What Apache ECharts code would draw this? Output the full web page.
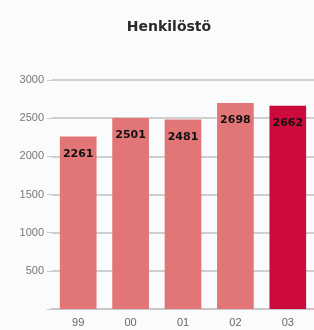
<!DOCTYPE html>
<html>
<head>
<meta charset="utf-8">
<script src="https://cdn.jsdelivr.net/npm/echarts@6/dist/echarts.min.js"></script>
<style>
  html, body { margin: 0; padding: 0; background: #fafbfd; }
  #chart { width: 314px; height: 330px; }
</style>
</head>
<body>
<div id="chart"></div>
<script>
  // vuodet ja henkilöstömäärät
  var years = ['99', '00', '01', '02', '03'];
  var staff = [2261, 2501, 2481, 2698, 2662];
  var barColors = ['#e27575', '#e27575', '#e27575', '#e27575', '#cc0a3c'];

  var data = [];
  for (var i = 0; i < staff.length; i++) {
    data.push({ value: staff[i], itemStyle: { color: barColors[i] } });
  }

  var chart = echarts.init(document.getElementById('chart'));
  chart.setOption({
    backgroundColor: '#fafbfd',
    animation: false,
    title: {
      text: 'Henkilöstö',
      left: 164,
      textAlign: 'center',
      top: 15,
      textStyle: { fontFamily: 'DejaVu Sans', fontSize: 14, fontWeight: 'bold', color: '#2a2a2a' }
    },
    grid: { left: 52, right: 0, top: 80, bottom: 21 },
    xAxis: {
      type: 'category',
      data: years,
      axisLine: { lineStyle: { color: '#c8c8c8', width: 2 } },
      axisTick: { show: false },
      axisLabel: { color: '#666', fontSize: 11, margin: 8, fontFamily: 'Liberation Sans' }
    },
    yAxis: {
      type: 'value',
      min: 0,
      max: 3000,
      interval: 500,
      axisLine: { show: false },
      axisTick: { show: true, length: 5, lineStyle: { color: '#c8c8c8' } },
      axisLabel: {
        color: '#777', fontSize: 11, margin: 8, fontFamily: 'Liberation Sans',
        formatter: function (v) { return v === 0 ? '' : v; }
      },
      splitLine: { lineStyle: { color: '#cfcfcf', width: 2 } }
    },
    series: [{
      type: 'bar',
      data: data,
      barWidth: '70%',
      label: {
        show: true,
        position: 'insideTop',
        distance: 12,
        color: '#111',
        fontWeight: 'bold',
        fontSize: 11,
        fontFamily: 'DejaVu Sans'
      }
    }]
  });
</script>
</body>
</html>
